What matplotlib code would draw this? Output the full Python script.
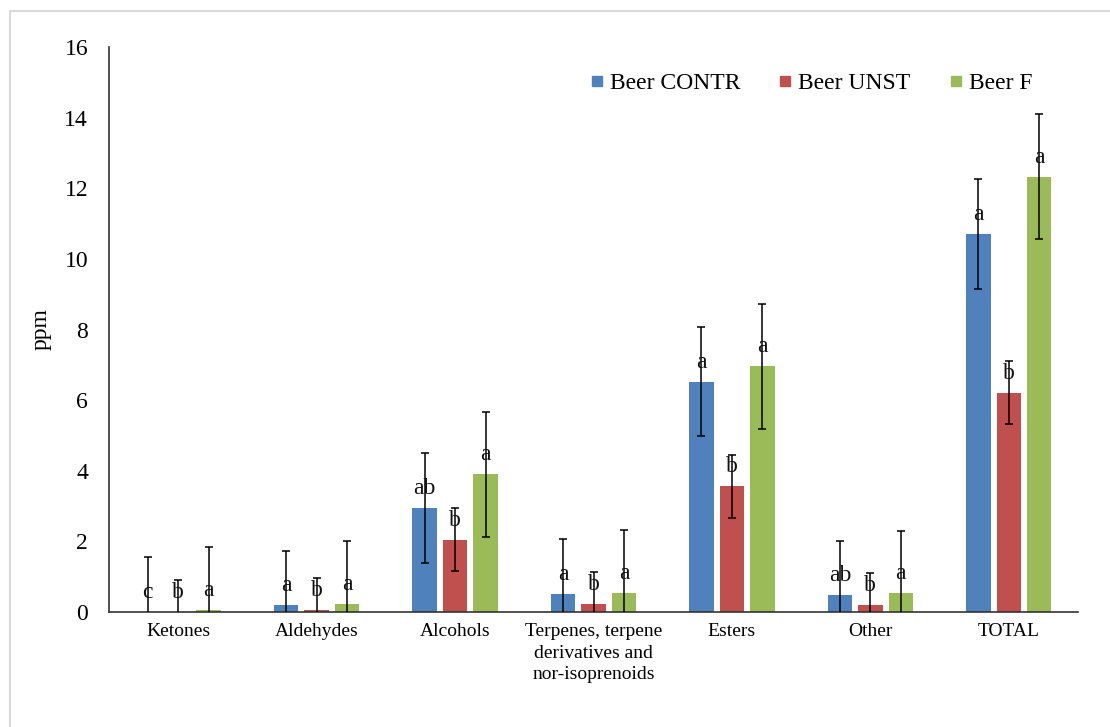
import numpy as np
import matplotlib
matplotlib.use("Agg")
import matplotlib.pyplot as plt
from matplotlib.lines import Line2D

plt.rcParams['font.family'] = ['Liberation Serif', 'DejaVu Serif']

# data (ppm)
categories = ["Ketones", "Aldehydes", "Alcohols",
              "Terpenes, terpene\nderivatives and\nnor-isoprenoids",
              "Esters", "Other", "TOTAL"]
series_names = ["Beer CONTR", "Beer UNST", "Beer F"]
contr = [0.0, 0.19, 2.95, 0.51, 6.52, 0.47, 10.71]
unst = [0.0, 0.07, 2.05, 0.23, 3.56, 0.21, 6.21]
beer_f = [0.06, 0.23, 3.90, 0.54, 6.96, 0.53, 12.32]
contr_err = [1.55, 1.55, 1.55, 1.55, 1.55, 1.55, 1.55]
unst_err = [0.90, 0.90, 0.90, 0.90, 0.90, 0.90, 0.90]
beer_f_err = [1.77, 1.77, 1.77, 1.77, 1.77, 1.77, 1.77]
contr_letters = ["c", "a", "ab", "a", "a", "ab", "a"]
unst_letters = ["b", "b", "b", "b", "b", "b", "b"]
beer_f_letters = ["a", "a", "a", "a", "a", "a", "a"]
colors = ["#4F81BD", "#C0504D", "#9BBB59"]

values = [contr, unst, beer_f]
errors = [contr_err, unst_err, beer_f_err]
letters = [contr_letters, unst_letters, beer_f_letters]

fig = plt.figure(figsize=(11.1, 7.27), dpi=100)
ax = fig.add_axes([109 / 1110, 1 - 612 / 727, 969 / 1110, 565 / 727])

x = np.arange(len(categories))
offsets = [-0.22, 0.0, 0.22]
width = 0.177

for vals, errs, labs, off, col in zip(values, errors, letters, offsets, colors):
    ax.bar(x + off, vals, width=width, color=col, zorder=2)
    ax.errorbar(x + off, vals, yerr=errs, fmt="none", ecolor="black",
                elinewidth=1.1, capsize=3, capthick=1.1, zorder=3)
    for xi, v, lab in zip(x + off, vals, labs):
        ax.annotate(lab, (xi, v), xytext=(0, 14), textcoords="offset points",
                    ha="center", va="center", fontsize=17, color="#111111",
                    zorder=4)

ax.set_xlim(-0.5, len(categories) - 0.5)
ax.set_ylim(0, 16)
ax.set_yticks(np.arange(0, 17, 2))
ax.set_xticks(x)
ax.set_xticklabels(categories, fontsize=14, linespacing=1.35)
ax.tick_params(axis="y", length=0, pad=15, labelsize=17)
ax.tick_params(axis="x", length=0, pad=8)
for lab in ax.get_xticklabels():
    lab.set_verticalalignment("top")

ax.set_ylabel("ppm", fontsize=17)
ax.yaxis.set_label_coords(-0.059, 0.5)

for s in ["top", "right"]:
    ax.spines[s].set_visible(False)
for s in ["left", "bottom"]:
    ax.spines[s].set_color("#333333")
    ax.spines[s].set_linewidth(1.2)

handles = [Line2D([], [], marker="s", linestyle="none", markersize=7.5,
                  markerfacecolor=c, markeredgecolor=c) for c in colors]
fig.legend(handles, series_names, loc="center", ncol=3,
           bbox_to_anchor=(811 / 1110, 1 - 83 / 727), frameon=False,
           fontsize=17, handlelength=0.6, handletextpad=0.25,
           columnspacing=1.6)

# light frame around the picture
fig.add_artist(Line2D([10 / 1110, 10 / 1110], [0, 1 - 11 / 727],
                      transform=fig.transFigure, color="#d9d9d9", lw=1.5))
fig.add_artist(Line2D([10 / 1110, 1], [1 - 11 / 727, 1 - 11 / 727],
                      transform=fig.transFigure, color="#d9d9d9", lw=1.5))

fig.savefig("out.png", dpi=100, facecolor="white")
